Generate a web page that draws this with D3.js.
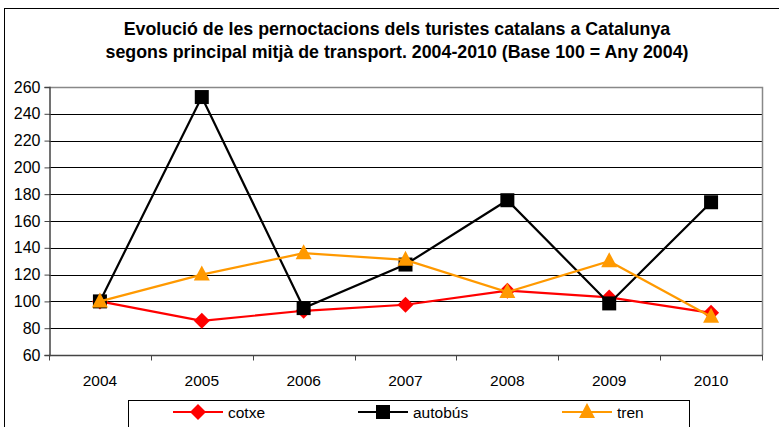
<!DOCTYPE html>
<html>
<head>
<meta charset="utf-8">
<script src="https://cdn.jsdelivr.net/npm/d3@7"></script>
<style>
  body { margin: 0; background: #fff; }
  text { font-family: "Liberation Sans", Arial, sans-serif; }
</style>
</head>
<body>
<div id="chart"></div>
<script>
const years = ["2004", "2005", "2006", "2007", "2008", "2009", "2010"];
const cotxe = [100, 85.5, 93, 97.5, 108, 103, 91.5];
const autobus = [100, 252.5, 95, 127.5, 175.5, 98.5, 174];
const tren = [100, 120, 136, 131, 107, 130, 88.5];
const yTicks = [60, 80, 100, 120, 140, 160, 180, 200, 220, 240, 260];
const titleLines = [
  "Evolució de les pernoctacions dels turistes catalans a Catalunya",
  "segons principal mitjà de transport. 2004-2010 (Base 100 = Any 2004)"
];

const seriesList = [
  { name: "cotxe", values: cotxe, color: "#ff0000", marker: "diamond" },
  { name: "autobús", values: autobus, color: "#000000", marker: "square" },
  { name: "tren", values: tren, color: "#ff9900", marker: "triangle" }
];

const width = 779, height = 427;
const plot = { left: 49, top: 87, right: 762, bottom: 355 };

const svg = d3.select("#chart")
  .append("svg")
  .attr("width", width)
  .attr("height", height);

// outer chart frame (runs off the bottom/right of the picture)
svg.append("rect")
  .attr("x", 4.5).attr("y", 8.5)
  .attr("width", 800).attr("height", 500)
  .attr("fill", "#fff")
  .attr("stroke", "#000");

// title
svg.append("g")
  .selectAll("text")
  .data(titleLines)
  .enter()
  .append("text")
  .attr("x", 397)
  .attr("y", (d, i) => 35 + i * 23)
  .attr("text-anchor", "middle")
  .style("font-size", "17.8px")
  .style("font-weight", "bold")
  .text(d => d);

const x = d3.scaleBand()
  .domain(years)
  .range([plot.left, plot.right]);

const y = d3.scaleLinear()
  .domain([60, 260])
  .range([plot.bottom, plot.top]);

// gridlines
svg.append("g")
  .selectAll("line")
  .data(yTicks.slice(1, -1))
  .enter()
  .append("line")
  .attr("x1", plot.left).attr("x2", plot.right)
  .attr("y1", d => Math.round(y(d)) + 0.5)
  .attr("y2", d => Math.round(y(d)) + 0.5)
  .attr("stroke", "#000")
  .attr("stroke-width", 1);

// plot frame top/right
svg.append("path")
  .attr("d", `M${plot.left},${plot.top + 0.5}H${plot.right + 0.5}V${plot.bottom}`)
  .attr("fill", "none")
  .attr("stroke", "#888")
  .attr("stroke-width", 1.5);

// y axis
const yAxis = svg.append("g")
  .attr("transform", `translate(${plot.left + 0.5},0)`)
  .call(d3.axisLeft(y).tickValues(yTicks).tickSize(5).tickPadding(4));
yAxis.select(".domain").attr("stroke", "#444").attr("stroke-width", 1.5);
yAxis.selectAll(".tick line").attr("stroke", "#444");
yAxis.selectAll("text")
  .style("font-size", "16px")
  .attr("fill", "#000")
  .attr("font-family", "Liberation Sans, Arial, sans-serif");

// x axis: ticks on category boundaries, labels centred
const xAxis = svg.append("g")
  .attr("transform", `translate(0,${plot.bottom + 0.5})`);
xAxis.append("line")
  .attr("x1", plot.left).attr("x2", plot.right + 1)
  .attr("stroke", "#444").attr("stroke-width", 1.5);
xAxis.selectAll(".xtick")
  .data(years.concat(["end"]))
  .enter()
  .append("line")
  .attr("x1", (d, i) => Math.round(plot.left + i * x.step()) + 0.5)
  .attr("x2", (d, i) => Math.round(plot.left + i * x.step()) + 0.5)
  .attr("y1", 0).attr("y2", 5)
  .attr("stroke", "#444");
xAxis.selectAll(".xlab")
  .data(years)
  .enter()
  .append("text")
  .attr("x", d => x(d) + x.bandwidth() / 2)
  .attr("y", 30)
  .attr("text-anchor", "middle")
  .style("font-size", "15.5px")
  .text(d => d);

const line = d3.line()
  .x((d, i) => x(years[i]) + x.bandwidth() / 2)
  .y(d => y(d));

function markerPath(type) {
  if (type === "diamond") return "M0,-8L8,0L0,8L-8,0Z";
  if (type === "square") return "M-7,-7H7V7H-7Z";
  return "M0,-9L8,6H-8Z";
}

const series = svg.append("g")
  .selectAll(".series")
  .data(seriesList)
  .enter()
  .append("g")
  .attr("class", "series");

series.append("path")
  .attr("d", d => line(d.values))
  .attr("fill", "none")
  .attr("stroke", d => d.color)
  .attr("stroke-width", 2.2);

series.each(function (s) {
  d3.select(this)
    .selectAll(".mk")
    .data(s.values)
    .enter()
    .append("path")
    .attr("transform", (d, i) =>
      `translate(${x(years[i]) + x.bandwidth() / 2},${y(d)})`)
    .attr("d", markerPath(s.marker))
    .attr("fill", s.color);
});

// legend
const legendX = [173, 358, 562];
svg.append("rect")
  .attr("x", 128.5).attr("y", 400.5)
  .attr("width", 561).attr("height", 40)
  .attr("fill", "#fff")
  .attr("stroke", "#000");

const items = svg.append("g")
  .selectAll(".leg")
  .data(seriesList)
  .enter()
  .append("g")
  .attr("transform", (d, i) => `translate(${legendX[i]},412)`);

items.append("line")
  .attr("x1", 0).attr("x2", 50)
  .attr("stroke", d => d.color)
  .attr("stroke-width", 2.2);
items.append("path")
  .attr("transform", "translate(25,0)")
  .attr("d", d => markerPath(d.marker))
  .attr("fill", d => d.color);
items.append("text")
  .attr("x", 55)
  .attr("y", 6)
  .style("font-size", "15.5px")
  .text(d => d.name);
</script>
</body>
</html>
